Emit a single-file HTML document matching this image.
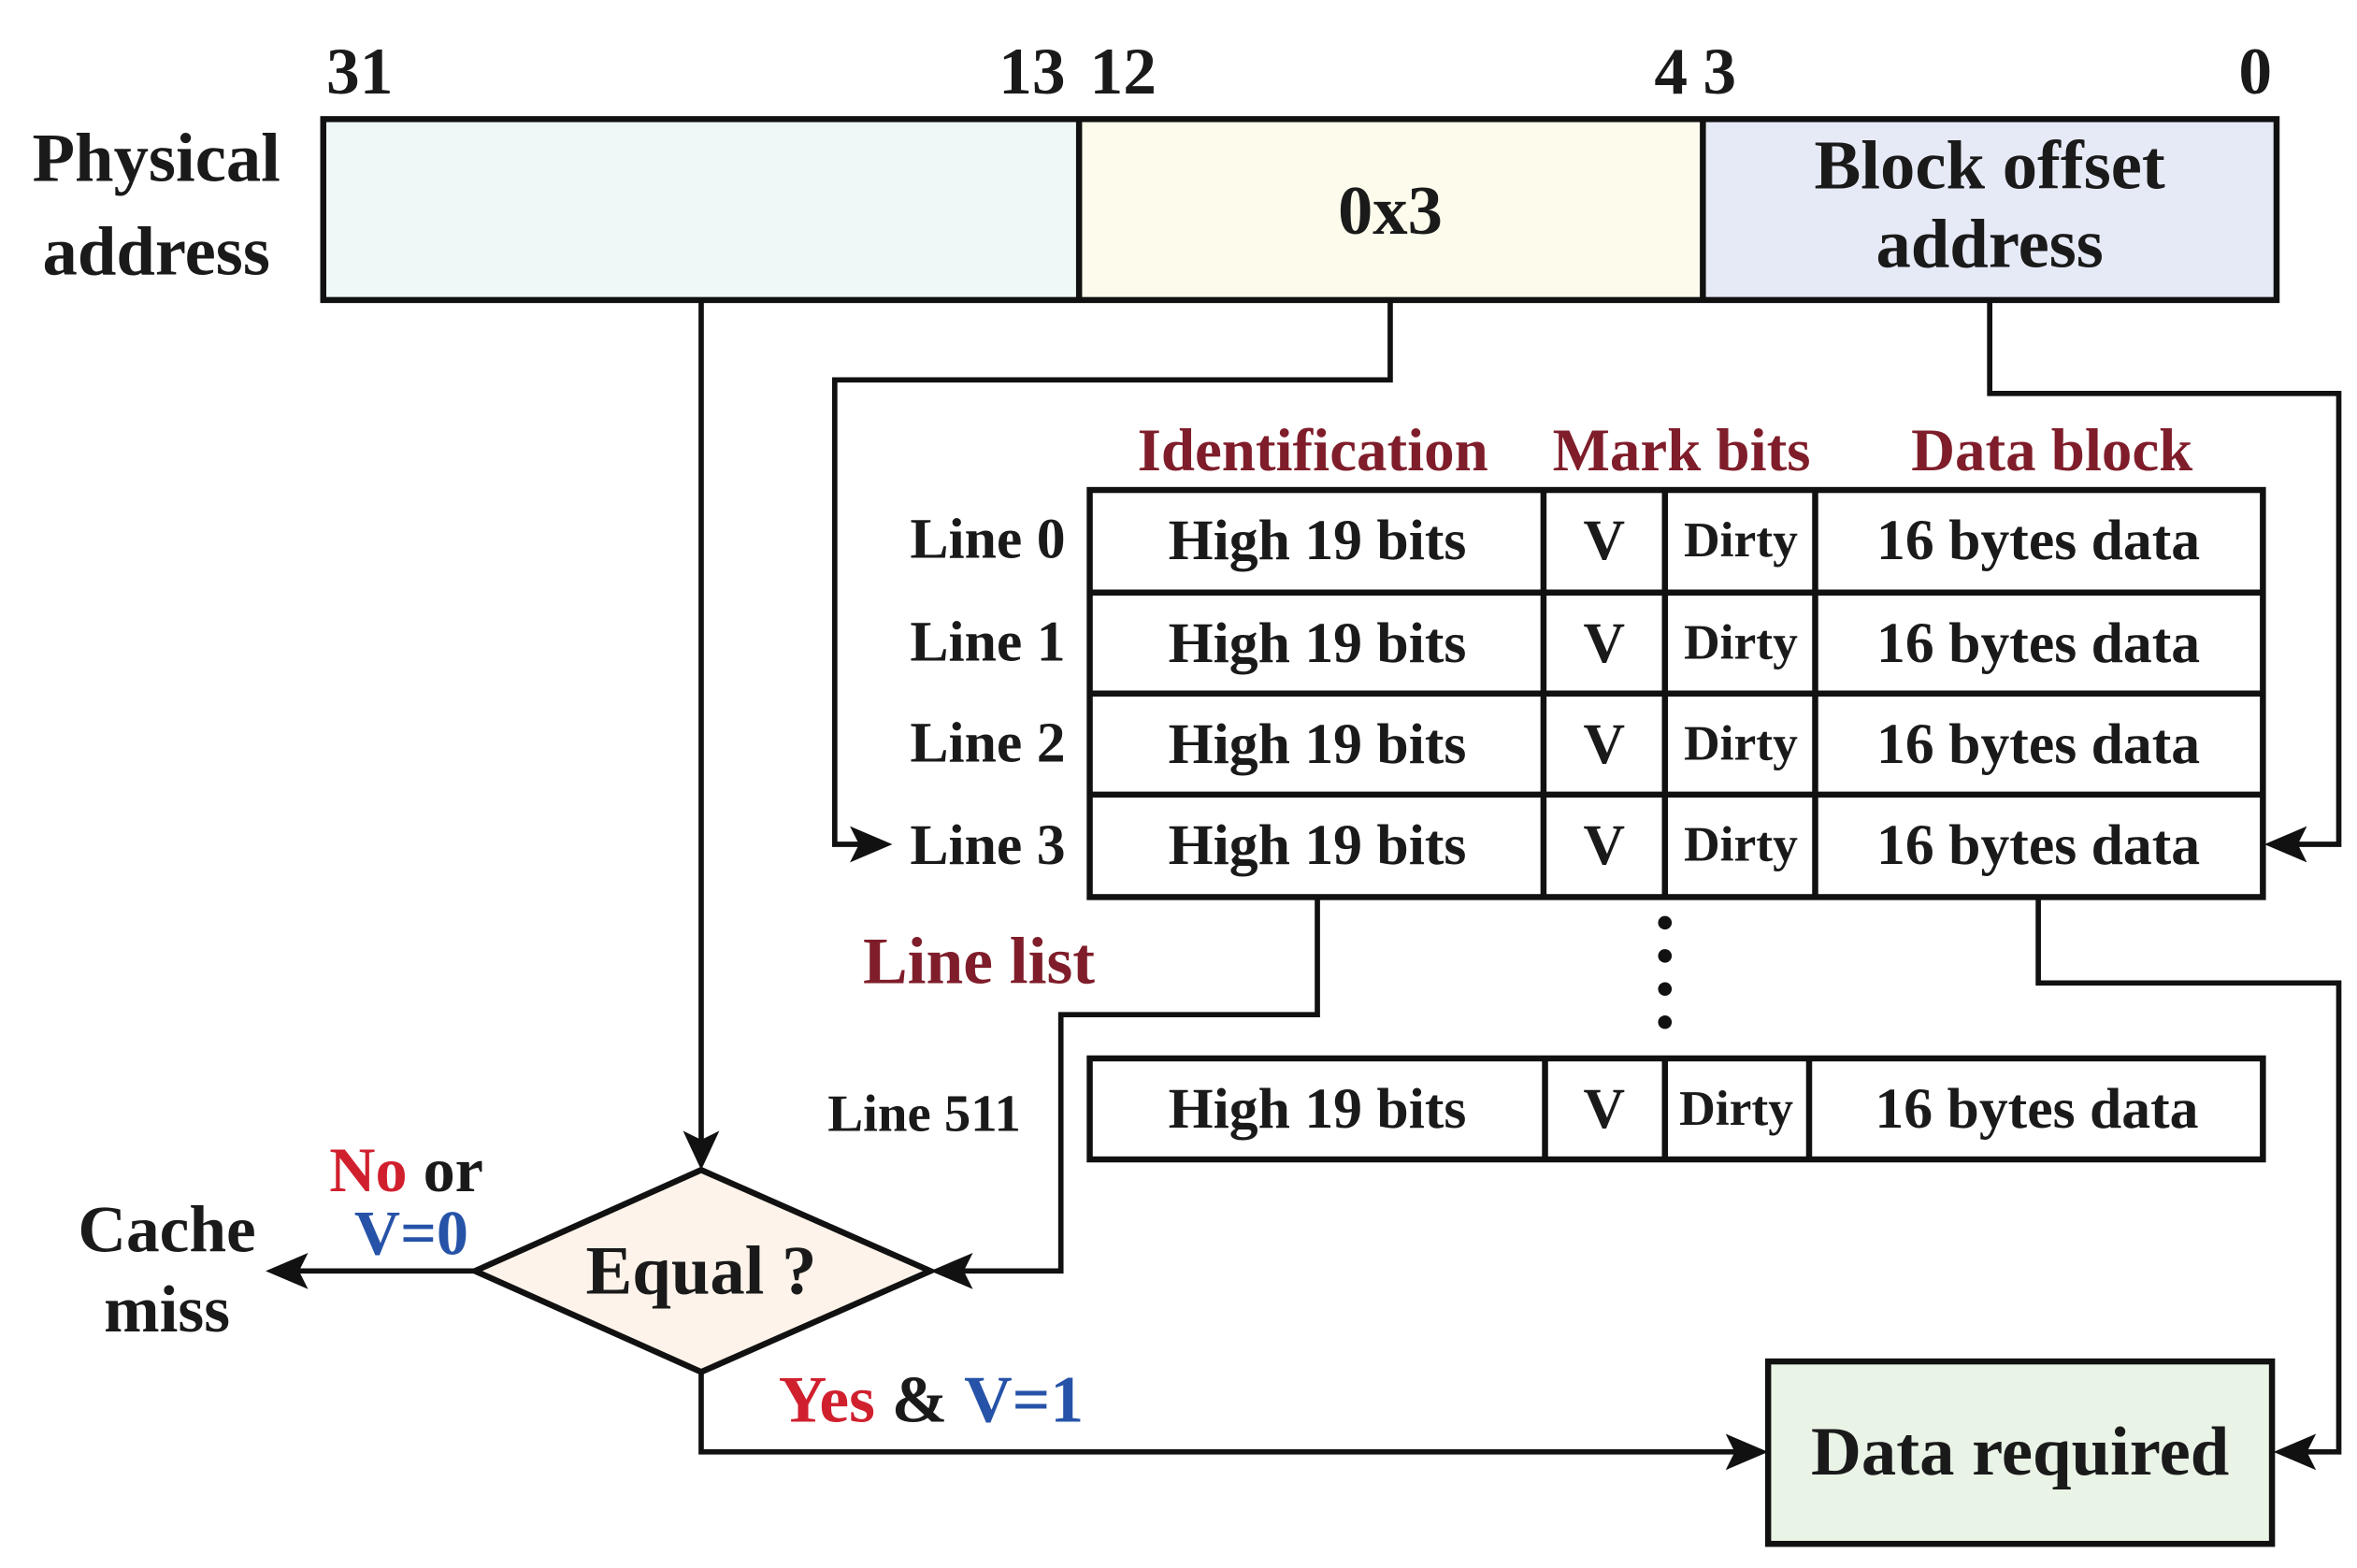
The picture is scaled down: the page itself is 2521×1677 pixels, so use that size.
<!DOCTYPE html>
<html><head><meta charset="utf-8"><style>
html,body{margin:0;padding:0;background:#fff;}
svg{display:block;}
text{font-family:"Liberation Serif",serif;font-weight:bold;fill:#1a1a1a;}
</style></head><body>
<svg width="2521" height="1677" viewBox="0 0 1553 1040" preserveAspectRatio="none" xmlns="http://www.w3.org/2000/svg">
<defs>
<marker id="ar" viewBox="0 0 10 10" refX="10" refY="5" markerWidth="7" markerHeight="7" markerUnits="userSpaceOnUse" orient="auto">
</marker>
</defs>
<g font-size="44">
<text x="215" y="62">31</text>
<text x="702" y="62" text-anchor="end">13</text>
<text x="718" y="62">12</text>
<text x="1112" y="62" text-anchor="end">4</text>
<text x="1122" y="62">3</text>
<text x="1497" y="62" text-anchor="end">0</text>
</g>
<rect x="213" y="79" width="498" height="120" fill="#eef8f6"/>
<rect x="711" y="79" width="411" height="120" fill="#fdfbec"/>
<rect x="1122" y="79" width="378" height="120" fill="#e6eaf6"/>
<rect x="213" y="79" width="1287" height="120" fill="none" stroke="#111" stroke-width="4"/>
<line x1="711" y1="79" x2="711" y2="199" stroke="#111" stroke-width="4"/>
<line x1="1122" y1="79" x2="1122" y2="199" stroke="#111" stroke-width="4"/>
<g font-size="46" text-anchor="middle">
<text x="103" y="120">Physical</text>
<text x="103" y="182">address</text>
<text x="916" y="155">0x3</text>
<text x="1311" y="125">Block offset</text>
<text x="1311" y="177">address</text>
</g>
<g fill="none" stroke="#111" stroke-width="3.5">
<polyline points="462,199 462,760"/>
<polyline points="916,199 916,252 550,252 550,560 570,560"/>
<polyline points="1311,199 1311,261 1541,261 1541,560 1510,560"/>
<polyline points="868,595 868,673 699,673 699,843 632,843"/>
<polyline points="1343,595 1343,652 1541,652 1541,963 1516,963"/>
<polyline points="313,843 195,843"/>
<polyline points="462,910 462,963 1148,963"/>
</g>
<g fill="#111">
<polygon points="462,776 450,750 462,756 474,750"/>
<polygon points="588,560 560,548 566,560 560,572"/>
<polygon points="1492,560 1520,548 1514,560 1520,572"/>
<polygon points="613,843 641,831 635,843 641,855"/>
<polygon points="1498,963 1526,951 1520,963 1526,975"/>
<polygon points="175,843 203,831 197,843 203,855"/>
<polygon points="1165,963 1137,951 1143,963 1137,975"/>
</g>
<g font-size="40" text-anchor="middle" style="fill:#7f1d2a">
<text x="865" y="312" style="fill:#7f1d2a">Identification</text>
<text x="1108" y="312" style="fill:#7f1d2a">Mark bits</text>
<text x="1352" y="312" style="fill:#7f1d2a">Data block</text>
</g>
<g fill="none" stroke="#111" stroke-width="4">
<rect x="718" y="325" width="773" height="270"/>
<line x1="718" y1="393" x2="1491" y2="393"/>
<line x1="718" y1="460" x2="1491" y2="460"/>
<line x1="718" y1="527" x2="1491" y2="527"/>
<line x1="1017" y1="325" x2="1017" y2="595"/>
<line x1="1097" y1="325" x2="1097" y2="595"/>
<line x1="1196" y1="325" x2="1196" y2="595"/>
<rect x="718" y="702" width="773" height="67"/>
<line x1="1018" y1="702" x2="1018" y2="769"/>
<line x1="1097" y1="702" x2="1097" y2="769"/>
<line x1="1192" y1="702" x2="1192" y2="769"/>
</g>
<g font-size="38">
<text x="702" y="370" text-anchor="end">Line 0</text>
<text x="702" y="438" text-anchor="end">Line 1</text>
<text x="702" y="505" text-anchor="end">Line 2</text>
<text x="702" y="573" text-anchor="end">Line 3</text>
<g text-anchor="middle">
<text x="868" y="371">High 19 bits</text><text x="1057" y="371">V</text><text x="1343" y="371">16 bytes data</text>
<text x="868" y="439">High 19 bits</text><text x="1057" y="439">V</text><text x="1343" y="439">16 bytes data</text>
<text x="868" y="506">High 19 bits</text><text x="1057" y="506">V</text><text x="1343" y="506">16 bytes data</text>
<text x="868" y="573">High 19 bits</text><text x="1057" y="573">V</text><text x="1343" y="573">16 bytes data</text>
<text x="868" y="748">High 19 bits</text><text x="1057" y="748">V</text><text x="1342" y="748">16 bytes data</text>
</g>
</g>
<g font-size="33" text-anchor="middle">
<text x="1147" y="369">Dirty</text>
<text x="1147" y="437">Dirty</text>
<text x="1147" y="504">Dirty</text>
<text x="1147" y="571">Dirty</text>
<text x="1144" y="746">Dirty</text>
<text x="609" y="750" font-size="35">Line 511</text>
</g>
<g fill="#111">
<circle cx="1097" cy="612" r="4.5"/><circle cx="1097" cy="634" r="4.5"/>
<circle cx="1097" cy="656" r="4.5"/><circle cx="1097" cy="678" r="4.5"/>
</g>
<text x="645" y="652" font-size="44" text-anchor="middle" style="fill:#7f1d2a">Line list</text>
<polygon points="313,843 462,776 613,843 462,910" fill="#fdf3ea" stroke="#111" stroke-width="4"/>
<text x="462" y="858" font-size="46" text-anchor="middle">Equal ?</text>
<text x="217" y="790" font-size="42"><tspan style="fill:#d0202e">No</tspan> or</text>
<text x="271" y="832" font-size="42" text-anchor="middle" style="fill:#2653a8">V=0</text>
<text x="110" y="830" font-size="44" text-anchor="middle">Cache</text>
<text x="110" y="883" font-size="44" text-anchor="middle">miss</text>
<text x="513" y="943" font-size="44"><tspan style="fill:#d0202e">Yes</tspan> &amp; <tspan style="fill:#2653a8">V=1</tspan></text>
<rect x="1165" y="903" width="332" height="121" fill="#e9f3e6" stroke="#111" stroke-width="4"/>
<text x="1331" y="978" font-size="46" text-anchor="middle">Data required</text>
</svg>
</body></html>
